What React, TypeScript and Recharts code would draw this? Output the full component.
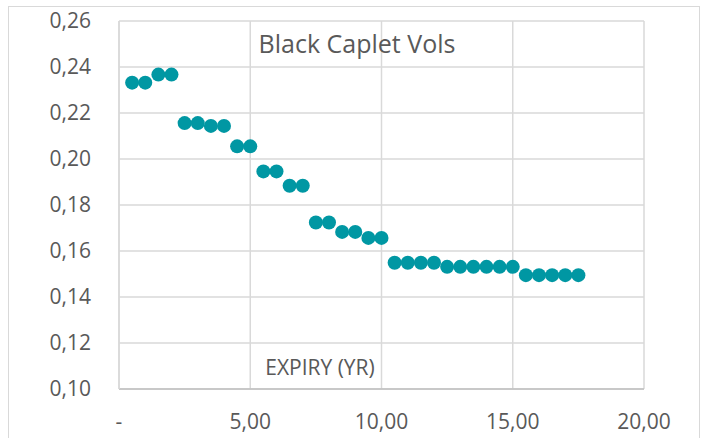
import { ScatterChart, Scatter, XAxis, YAxis, CartesianGrid } from 'recharts'

const expiries = [
  0.5, 1, 1.5, 2, 2.5, 3, 3.5, 4, 4.5, 5, 5.5, 6, 6.5, 7, 7.5, 8, 8.5, 9, 9.5, 10,
  10.5, 11, 11.5, 12, 12.5, 13, 13.5, 14, 14.5, 15, 15.5, 16, 16.5, 17, 17.5,
]
const vols = [
  0.2332, 0.2332, 0.2367, 0.2367, 0.2156, 0.2156, 0.2144, 0.2144, 0.2055, 0.2055,
  0.1946, 0.1946, 0.1884, 0.1884, 0.1724, 0.1724, 0.1683, 0.1683, 0.1657, 0.1657,
  0.1549, 0.1549, 0.1549, 0.1549, 0.1531, 0.1531, 0.1531, 0.1531, 0.1531, 0.1531,
  0.1495, 0.1495, 0.1495, 0.1495, 0.1495,
]
const xTicks = [0, 5, 10, 15, 20]
const yTicks = [0.1, 0.12, 0.14, 0.16, 0.18, 0.2, 0.22, 0.24, 0.26]

const data = expiries.map((x, i) => ({ x, y: vols[i] }))

const font = '"Open Sans", sans-serif'
const grey = '#595959'

const Dot = (props: any) => <circle cx={props.cx} cy={props.cy} r={7} fill="#0097a3" />

export default function App() {
  return (
    <div style={{ position: 'absolute', left: 0, top: 0, width: 701, height: 438, background: '#fff', fontFamily: font, overflow: 'hidden' }}>
      <div
        style={{
          position: 'absolute', left: 8, top: 6, width: 692, height: 440,
          border: '1px solid #d9d9d9', boxSizing: 'border-box',
        }}
      />
      <ScatterChart width={701} height={438} margin={{ top: 21, right: 57, bottom: 0, left: 0 }}>
        <CartesianGrid stroke="#d9d9d9" strokeWidth={1.5} />
        <XAxis
          type="number"
          dataKey="x"
          domain={[0, 20]}
          ticks={xTicks}
          height={49}
          tickSize={0}
          tickMargin={25}
          axisLine={{ stroke: '#bfbfbf', strokeWidth: 1.5 }}
          tickLine={false}
          tick={{ fill: grey, fontSize: 21, fontFamily: font }}
          tickFormatter={v => (v === 0 ? '-' : v.toFixed(2).replace('.', ','))}
        />
        <YAxis
          type="number"
          dataKey="y"
          domain={[0.1, 0.26]}
          ticks={yTicks}
          width={119}
          tickSize={0}
          tickMargin={28}
          axisLine={{ stroke: '#d9d9d9', strokeWidth: 1.5 }}
          tickLine={false}
          tick={{ fill: grey, fontSize: 21, fontFamily: font }}
          tickFormatter={v => v.toFixed(2).replace('.', ',')}
        />
        <Scatter data={data} shape={Dot} isAnimationActive={false} />
      </ScatterChart>
      <svg width={701} height={438} style={{ position: 'absolute', left: 0, top: 0, pointerEvents: 'none' }}>
        <text x={357} y={53} textAnchor="middle" fontSize={25} fill={grey} fontFamily={font}>
          Black Caplet Vols
        </text>
        <text x={320} y={375} textAnchor="middle" fontSize={21} fill={grey} fontFamily={font}>
          EXPIRY (YR)
        </text>
      </svg>
    </div>
  )
}
